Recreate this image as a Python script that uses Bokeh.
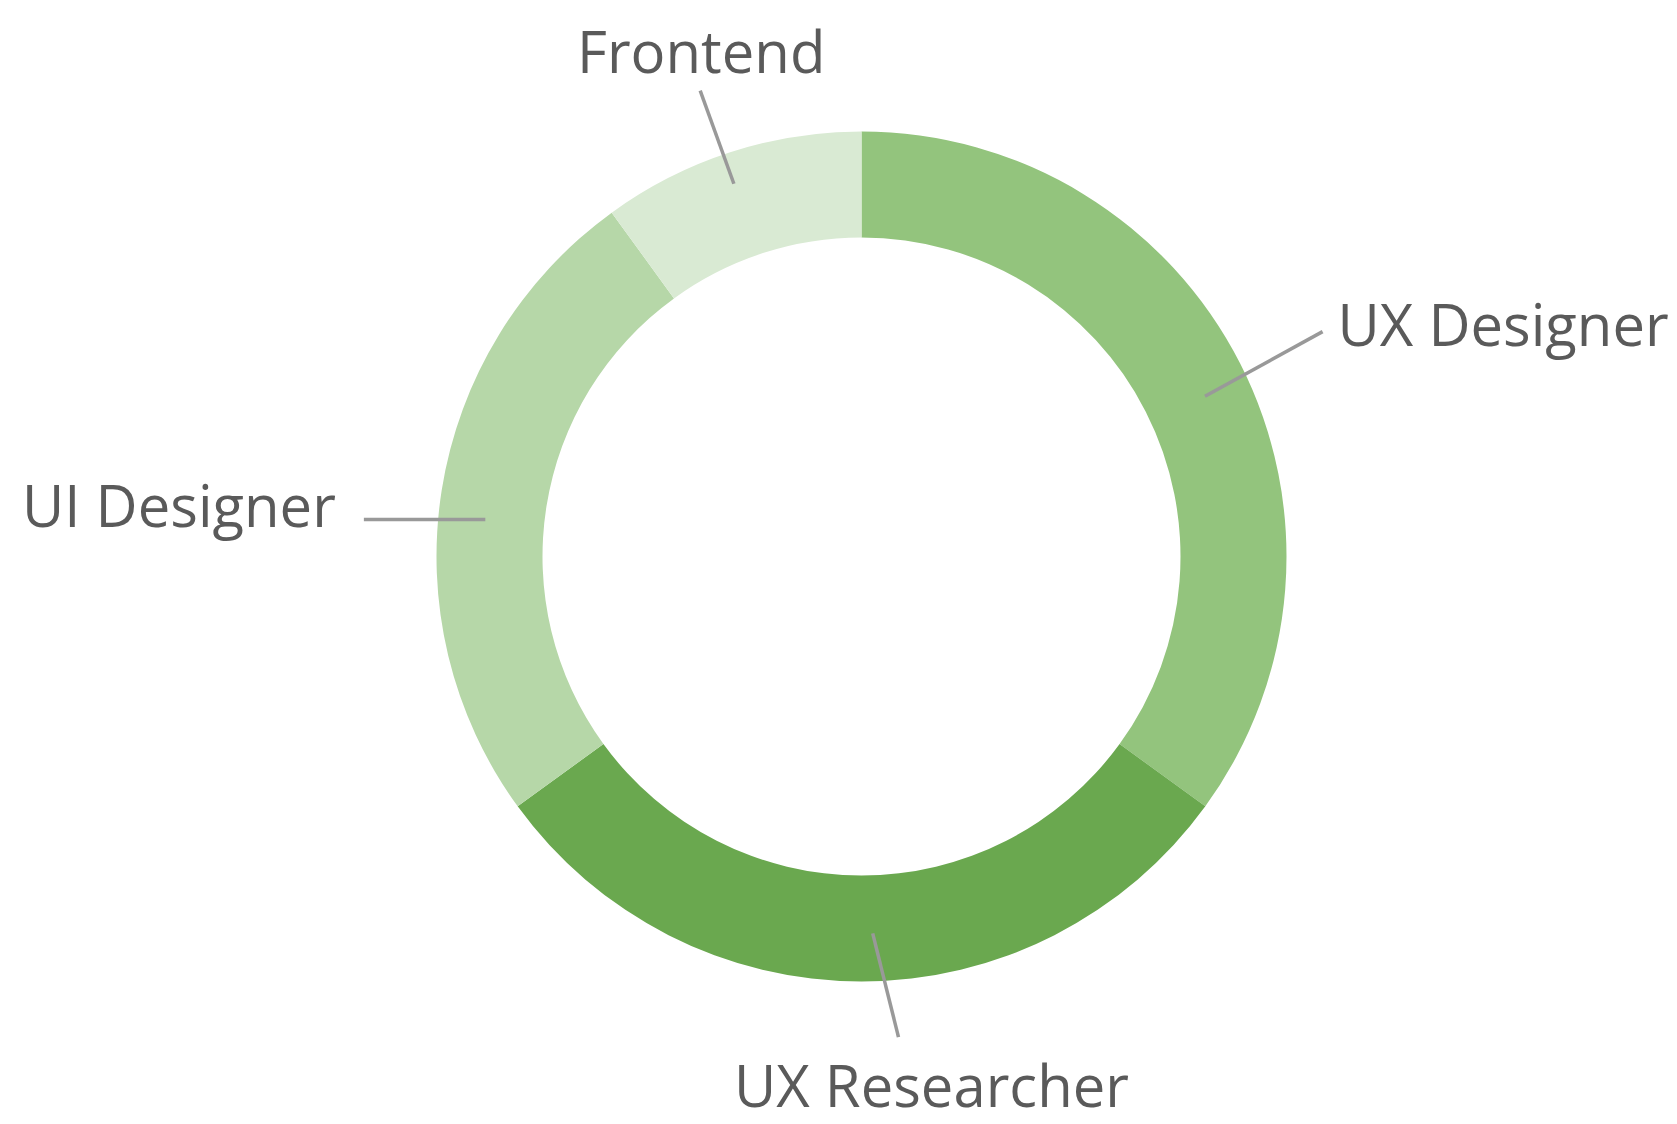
import math
from bokeh.plotting import figure
from bokeh.models import Range1d, ColumnDataSource
from bokeh.core.properties import value
from bokeh.embed import file_html
from bokeh.resources import INLINE

# ---- data ----
categories = ["UX Designer", "UX Researcher", "UI Designer", "Frontend"]
shares = [35, 30, 25, 10]
colors = ["#93c47d", "#6aa84f", "#b6d7a8", "#d9ead3"]

# ---- layout ----
W, H = 1677, 1124
CX, CY = 861, H - 556
R_OUT, R_IN = 425, 319
TEXT_SHIFT = 23  # baseline correction

# per-label leader layout: (inner angle offset deg, inner r, outer angle offset deg, outer r,
#                           text align, text dx, text dy)
label_layout = {
    "UX Designer":   (2.0, 379, 1.0, 513, "left", 15, -15),
    "UX Researcher": (-1.7, 377, -4.4, 482, "center", 33, -70),
    "UI Designer":   (-3.4, 378, -4.75, 499, "right", -28, -8),
    "Frontend":      (-0.9, 394, -1.1, 493, "center", 1, 17),
}

p = figure(width=W, height=H, output_backend="svg", toolbar_location=None,
           x_range=Range1d(0, W), y_range=Range1d(0, H),
           min_border=0, outline_line_color=None)
p.axis.visible = False
p.grid.visible = False
p.background_fill_color = "white"
p.border_fill_color = "white"

total = float(sum(shares))
starts, ends, mids = [], [], []
cum = 0.0
for s in shares:
    a0 = cum / total
    cum += s
    a1 = cum / total
    starts.append(math.pi / 2 - 2 * math.pi * a0)
    ends.append(math.pi / 2 - 2 * math.pi * a1)
    mids.append(360.0 * (a0 + a1) / 2)

src = ColumnDataSource(dict(start=starts, end=ends, color=colors, cat=categories))
p.annular_wedge(x=CX, y=CY, inner_radius=R_IN, outer_radius=R_OUT,
                start_angle="start", end_angle="end", direction="clock",
                fill_color="color", line_color=None, source=src)

def polar(theta_deg, r):
    t = math.radians(theta_deg)
    return CX + r * math.sin(t), CY + r * math.cos(t)

xs, ys, tx, ty, ta = [], [], [], [], []
for cat, m in zip(categories, mids):
    ia, ir, oa, orr, align, dx, dy = label_layout[cat]
    x0, y0 = polar(m + ia, ir)
    x1, y1 = polar(m + oa, orr)
    xs.append([x0, x1])
    ys.append([y0, y1])
    tx.append(x1 + dx)
    ty.append(y1 + dy + TEXT_SHIFT)
    ta.append(align)

p.multi_line(xs=xs, ys=ys, line_color="#999999", line_width=3.5)
tsrc = ColumnDataSource(dict(x=tx, y=ty, text=categories, align=ta))
p.text(x="x", y="y", text="text", text_align="align", text_baseline="alphabetic",
       text_font=value("Open Sans"), text_font_size="58px", text_color="#5a5a5a",
       source=tsrc)

open("out.html", "w").write(file_html(p, INLINE))
